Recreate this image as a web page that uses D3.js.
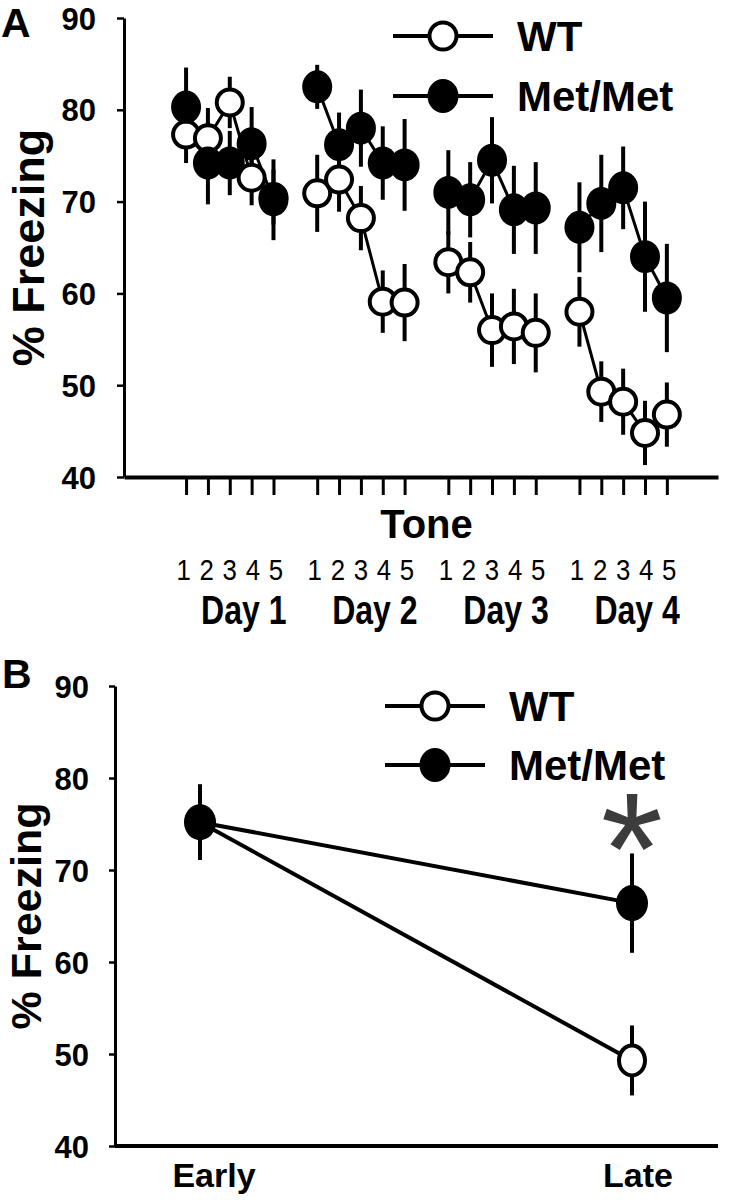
<!DOCTYPE html>
<html><head><meta charset="utf-8">
<script src="https://cdn.jsdelivr.net/npm/d3@7"></script>
<style>body{margin:0;background:#fff}svg{display:block}</style>
</head><body>
<svg id="c" width="730" height="1200"></svg>
<script>
// ---------- data ----------
const days = ["Day 1", "Day 2", "Day 3", "Day 4"];
const tones = ["1", "2", "3", "4", "5"];
const yTicks = [40, 50, 60, 70, 80, 90];
// Panel A: 20 tone presentations (5 per day)
const wtA     = [77.3, 76.9, 80.8, 72.6, 70.5,  70.9, 72.4, 68.2, 59.1, 59.0,  63.4, 62.3, 56.0, 56.4, 55.7,  58.0, 49.3, 48.2, 44.8, 46.8];
const wtAErr  = [3.1, 3.3, 2.8, 3.0, 3.0,  4.2, 3.5, 3.5, 3.4, 4.2,  3.4, 3.3, 4.0, 4.1, 4.3,  3.8, 3.3, 3.6, 3.5, 3.5];
const metA    = [80.3, 74.2, 74.2, 76.3, 70.2,  82.5, 76.2, 78.0, 74.2, 74.0,  71.0, 70.2, 74.5, 69.1, 69.3,  67.2, 69.8, 71.5, 64.0, 59.5];
const metAErr = [4.3, 4.5, 3.5, 4.0, 4.4,  2.4, 3.5, 4.2, 4.0, 5.0,  4.6, 4.1, 4.7, 4.8, 5.0,  4.9, 5.3, 4.5, 6.0, 5.9];
// Panel B
const phases  = ["Early", "Late"];
const wtB     = [75.2, 49.3];
const wtBErr  = [4.1, 3.8];
const metB    = [75.2, 66.4];
const metBErr = [4.1, 5.4];
const seriesNames = ["WT", "Met/Met"];

// ---------- helpers ----------
const FONT = "'Liberation Sans', Arial, Helvetica, sans-serif";
const svg = d3.select("#c");

function rows(means, errs) {
  return means.map((m, k) => ({ k, day: Math.floor(k / 5), t: k % 5, i: Math.floor(k / 5) * 6 + (k % 5), m, e: errs[k] }));
}

// ================= PANEL A =================
const xA = d3.scaleLinear().domain([-2.84, 24.34]).range([124, 718]);
const yA = d3.scaleLinear().domain([40, 90]).range([477, 18]);
const gA = svg.append("g");

// y axis
const yAxA = gA.append("g").attr("transform", `translate(${xA(-2.84)},0)`)
  .call(d3.axisLeft(yA).tickValues(yTicks).tickSize(7).tickSizeOuter(0).tickPadding(21));
yAxA.select(".domain").attr("stroke", "#000").attr("stroke-width", 3);
yAxA.selectAll(".tick line").attr("stroke", "#000").attr("stroke-width", 2.5);
yAxA.selectAll(".tick text").attr("font-family", FONT).attr("font-weight", "bold").attr("font-size", 31).attr("fill", "#000").attr("dy", "0.36em");

// x axis (tone ticks)
const tickIdx = d3.range(20).map(k => Math.floor(k / 5) * 6 + (k % 5));
const xAxA = gA.append("g").attr("transform", `translate(0,${yA(40)})`)
  .call(d3.axisBottom(xA).tickValues(tickIdx).tickSize(18).tickSizeOuter(0).tickFormat(""));
xAxA.select(".domain").attr("stroke", "#000").attr("stroke-width", 4);
xAxA.selectAll(".tick line").attr("stroke", "#000").attr("stroke-width", 3);

// tone digits (condensed)
gA.append("g").selectAll("text").data(d3.range(20)).join("text")
  .attr("transform", k => `translate(${xA(tickIdx[k]) + ((k % 5) - 2) * 1.2},580) scale(0.86,1)`)
  .attr("text-anchor", "middle")
  .attr("font-family", FONT).attr("font-size", 30).attr("fill", "#000")
  .text(k => tones[k % 5]);

// day labels (condensed bold)
gA.append("g").selectAll("text").data(days).join("text")
  .attr("transform", (d, j) => `translate(${xA(j * 6 + 2) + 14},624) scale(0.8,1)`)
  .attr("text-anchor", "middle")
  .attr("font-family", FONT).attr("font-weight", "bold").attr("font-size", 40).attr("fill", "#000")
  .text(d => d);

// "Tone"
gA.append("text").attr("x", xA(11)).attr("y", 538).attr("text-anchor", "middle")
  .attr("font-family", FONT).attr("font-weight", "bold").attr("font-size", 40).text("Tone");

// y title
gA.append("text").attr("transform", `translate(44,${(yA(40) + yA(90)) / 2}) rotate(-90)`)
  .attr("text-anchor", "middle").attr("font-family", FONT).attr("font-weight", "bold").attr("font-size", 45)
  .text("% Freezing");

// panel letter
svg.append("text").attr("x", 1).attr("y", 37).attr("font-family", FONT).attr("font-weight", "bold").attr("font-size", 41).text("A");

const wtRowsA = rows(wtA, wtAErr), metRowsA = rows(metA, metAErr);
const lineA = d3.line().x(d => xA(d.i)).y(d => yA(d.m));

// error bars
[wtRowsA, metRowsA].forEach(rs => {
  gA.append("g").selectAll("line").data(rs).join("line")
    .attr("x1", d => xA(d.i)).attr("x2", d => xA(d.i))
    .attr("y1", d => yA(d.m + d.e)).attr("y2", d => yA(d.m - d.e))
    .attr("stroke", "#000").attr("stroke-width", 4);
});
// connecting lines (within each day)
[wtRowsA, metRowsA].forEach(rs => {
  gA.append("g").selectAll("path").data(d3.groups(rs, d => d.day)).join("path")
    .attr("d", d => lineA(d[1])).attr("fill", "none").attr("stroke", "#000").attr("stroke-width", 3);
});
// markers
gA.append("g").selectAll("circle").data(wtRowsA).join("circle")
  .attr("cx", d => xA(d.i)).attr("cy", d => yA(d.m)).attr("r", 13)
  .attr("fill", "#fff").attr("stroke", "#000").attr("stroke-width", 4);
gA.append("g").selectAll("ellipse").data(metRowsA).join("ellipse")
  .attr("cx", d => xA(d.i)).attr("cy", d => yA(d.m)).attr("rx", 15).attr("ry", 16.5)
  .attr("fill", "#000");

// legend
function legend(g, x0, y0, gap) {
  seriesNames.forEach((name, s) => {
    const yy = y0 + s * gap;
    g.append("line").attr("x1", x0).attr("x2", x0 + 100).attr("y1", yy).attr("y2", yy).attr("stroke", "#000").attr("stroke-width", 4);
    if (s === 0) g.append("circle").attr("cx", x0 + 50).attr("cy", yy).attr("r", 13.5).attr("fill", "#fff").attr("stroke", "#000").attr("stroke-width", 4);
    else g.append("ellipse").attr("cx", x0 + 50).attr("cy", yy).attr("rx", 15.5).attr("ry", 17).attr("fill", "#000");
    g.append("text").attr("x", x0 + 124).attr("y", yy + 15).attr("font-family", FONT).attr("font-weight", "bold").attr("font-size", 42).text(name);
  });
}
legend(gA, 393, 36, 60);

// ================= PANEL B =================
const xB = d3.scalePoint().domain(phases).range([200, 632]);
const yB = d3.scaleLinear().domain([40, 90]).range([1146, 686]);
const gB = svg.append("g");

const yAxB = gB.append("g").attr("transform", "translate(115,0)")
  .call(d3.axisLeft(yB).tickValues(yTicks).tickSize(6).tickSizeOuter(0).tickPadding(20));
yAxB.select(".domain").attr("stroke", "#000").attr("stroke-width", 3);
yAxB.selectAll(".tick line").attr("stroke", "#000").attr("stroke-width", 2.5);
yAxB.selectAll(".tick text").attr("font-family", FONT).attr("font-weight", "bold").attr("font-size", 31).attr("fill", "#000").attr("dy", "0.36em");

gB.append("line").attr("x1", 115).attr("x2", 718).attr("y1", yB(40)).attr("y2", yB(40)).attr("stroke", "#000").attr("stroke-width", 4);

gB.append("g").selectAll("text").data(phases).join("text")
  .attr("x", (d, j) => xB(d) + (j === 0 ? 14 : 6)).attr("y", 1187).attr("text-anchor", "middle")
  .attr("font-family", FONT).attr("font-weight", "bold").attr("font-size", 34).text(d => d);

gB.append("text").attr("transform", `translate(41,${(yB(40) + yB(90)) / 2}) rotate(-90)`)
  .attr("text-anchor", "middle").attr("font-family", FONT).attr("font-weight", "bold").attr("font-size", 43)
  .text("% Freezing");
svg.append("text").attr("x", 2).attr("y", 688).attr("font-family", FONT).attr("font-weight", "bold").attr("font-size", 41).text("B");

const wtRowsB = phases.map((p, j) => ({ p, m: wtB[j], e: wtBErr[j] }));
const metRowsB = phases.map((p, j) => ({ p, m: metB[j], e: metBErr[j] }));
const lineB = d3.line().x(d => xB(d.p)).y(d => yB(d.m));

[wtRowsB, metRowsB].forEach(rs => {
  gB.append("g").selectAll("line").data(rs).join("line")
    .attr("x1", d => xB(d.p)).attr("x2", d => xB(d.p))
    .attr("y1", d => yB(d.m + d.e)).attr("y2", d => yB(d.m - d.e))
    .attr("stroke", "#000").attr("stroke-width", 4);
});
[wtRowsB, metRowsB].forEach(rs => {
  gB.append("path").datum(rs).attr("d", lineB).attr("fill", "none").attr("stroke", "#000").attr("stroke-width", 4);
});
gB.append("g").selectAll("ellipse").data(wtRowsB).join("ellipse")
  .attr("cx", d => xB(d.p)).attr("cy", d => yB(d.m)).attr("rx", 13).attr("ry", 15)
  .attr("fill", "#fff").attr("stroke", "#000").attr("stroke-width", 4);
gB.append("g").selectAll("ellipse").data(metRowsB).join("ellipse")
  .attr("cx", d => xB(d.p)).attr("cy", d => yB(d.m)).attr("rx", 16).attr("ry", 18)
  .attr("fill", "#000");

// significance asterisk
gB.append("text").attr("x", xB("Late")).attr("y", yB(metB[1] + metBErr[1]) + 51)
  .attr("text-anchor", "middle").attr("font-family", FONT).attr("font-size", 160).attr("fill", "#3c3c3c").text("*");

legend(gB, 385, 706, 59);
</script>
</body></html>
